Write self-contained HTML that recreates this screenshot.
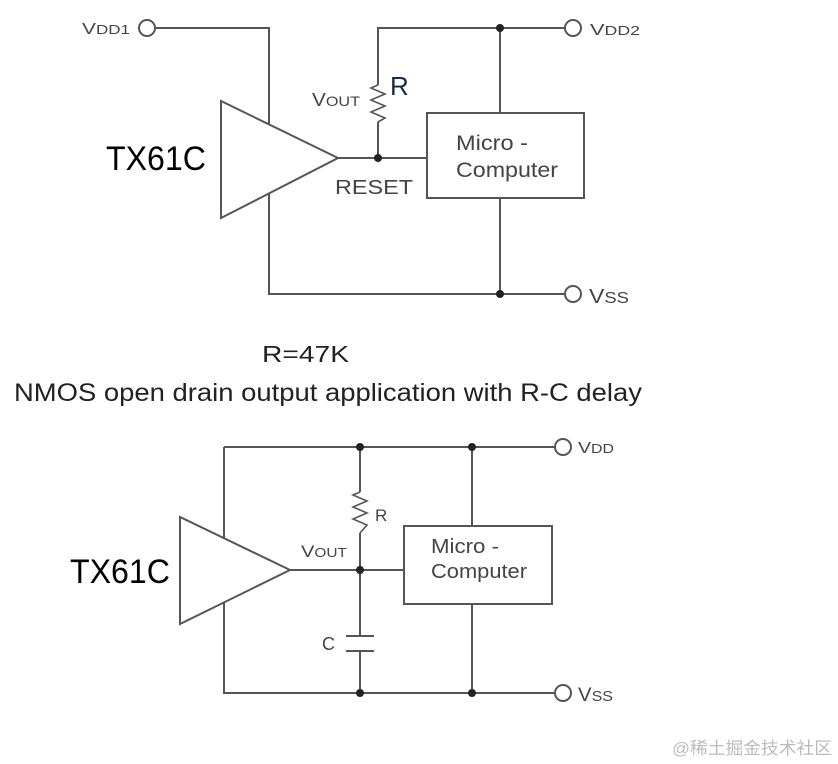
<!DOCTYPE html>
<html><head><meta charset="utf-8"><style>
html,body{margin:0;padding:0;background:#fff;width:838px;height:764px;overflow:hidden}
svg{display:block}
text{font-family:"Liberation Sans",Arial,sans-serif;fill:#444}
</style></head><body>
<svg width="838" height="764" viewBox="0 0 838 764" xmlns="http://www.w3.org/2000/svg">
<g stroke="#555" stroke-width="2" fill="none">
<polyline points="156,28 269,28 269,294 565,294"/>
<polyline points="378,85 378,28 565,28"/>
<line x1="500" y1="28" x2="500" y2="113"/>
<line x1="500" y1="198" x2="500" y2="294"/>
<polyline points="338,158 427,158"/>
<polyline points="378,122 378,158"/>
<polyline points="378,85 371,88 385,94 371,100 385,106 371,112 385,118 378,122" stroke-width="1.6"/>
<polygon points="221,101 221,218 338,158" fill="#fff"/>
<rect x="427" y="113" width="157" height="85" fill="#fff"/>
<circle cx="147" cy="28" r="8" fill="#fff"/>
<circle cx="573" cy="28" r="8" fill="#fff"/>
<circle cx="573" cy="294" r="8" fill="#fff"/>
<polyline points="224,447 555,447"/>
<polyline points="224,447 224,693 555,693"/>
<line x1="472" y1="447" x2="472" y2="526"/>
<line x1="472" y1="604" x2="472" y2="693"/>
<line x1="360" y1="447" x2="360" y2="492"/>
<polyline points="360,492 353,495 367,501 353,507 367,513 353,519 367,525 360,533" stroke-width="1.6"/>
<line x1="360" y1="533" x2="360" y2="636"/>
<line x1="360" y1="651" x2="360" y2="693"/>
<line x1="346" y1="636" x2="374" y2="636"/>
<line x1="346" y1="651" x2="374" y2="651"/>
<line x1="290" y1="570" x2="404" y2="570"/>
<polygon points="180,517 180,624 290,570" fill="#fff"/>
<rect x="404" y="526" width="148" height="78" fill="#fff"/>
<circle cx="563" cy="447" r="8" fill="#fff"/>
<circle cx="563" cy="693" r="8" fill="#fff"/>
</g>
<g fill="#222">
<circle cx="378" cy="158" r="4"/>
<circle cx="500" cy="28" r="4"/>
<circle cx="500" cy="294" r="4"/>
<circle cx="360" cy="447" r="4"/>
<circle cx="472" cy="447" r="4"/>
<circle cx="360" cy="570" r="4"/>
<circle cx="360" cy="693" r="4"/>
<circle cx="472" cy="693" r="4"/>
</g>
<text x="82" y="34" font-size="16" textLength="48" lengthAdjust="spacingAndGlyphs">V<tspan font-size="13">DD1</tspan></text>
<text x="590" y="35" font-size="16" textLength="50" lengthAdjust="spacingAndGlyphs">V<tspan font-size="13">DD2</tspan></text>
<text x="589" y="303" font-size="20" textLength="40" lengthAdjust="spacingAndGlyphs">V<tspan font-size="16">SS</tspan></text>
<text x="312" y="106" font-size="18" textLength="48" lengthAdjust="spacingAndGlyphs">V<tspan font-size="14">OUT</tspan></text>
<text x="390" y="95" font-size="26" style="fill:#1a2a4a">R</text>
<text x="335" y="194" font-size="20" textLength="78" lengthAdjust="spacingAndGlyphs">RESET</text>
<text x="456" y="150" font-size="21" textLength="72" lengthAdjust="spacingAndGlyphs">Micro -</text>
<text x="456" y="177" font-size="21" textLength="102" lengthAdjust="spacingAndGlyphs">Computer</text>
<text x="106" y="170" font-size="34" style="fill:#000" textLength="100" lengthAdjust="spacingAndGlyphs">TX61C</text>
<text x="262" y="362" font-size="23" style="fill:#222" textLength="87" lengthAdjust="spacingAndGlyphs">R=47K</text>
<text x="14" y="401" font-size="25" style="fill:#222" textLength="628" lengthAdjust="spacingAndGlyphs">NMOS open drain output application with R-C delay</text>
<text x="578" y="453" font-size="16" textLength="36" lengthAdjust="spacingAndGlyphs">V<tspan font-size="13">DD</tspan></text>
<text x="578" y="701" font-size="19" textLength="35" lengthAdjust="spacingAndGlyphs">V<tspan font-size="15">SS</tspan></text>
<text x="301" y="557" font-size="17" textLength="46" lengthAdjust="spacingAndGlyphs">V<tspan font-size="13">OUT</tspan></text>
<text x="375" y="521" font-size="17">R</text>
<text x="322" y="650" font-size="18">C</text>
<text x="431" y="553" font-size="20" textLength="68" lengthAdjust="spacingAndGlyphs">Micro -</text>
<text x="431" y="578" font-size="20" textLength="96" lengthAdjust="spacingAndGlyphs">Computer</text>
<text x="70" y="583" font-size="34" style="fill:#000" textLength="100" lengthAdjust="spacingAndGlyphs">TX61C</text>
<text x="672" y="754" font-size="17" textLength="160" lengthAdjust="spacingAndGlyphs" style="fill:#bbb;font-family:'Liberation Sans','Noto Sans CJK SC',sans-serif">@稀土掘金技术社区</text>
</svg>
</body></html>
